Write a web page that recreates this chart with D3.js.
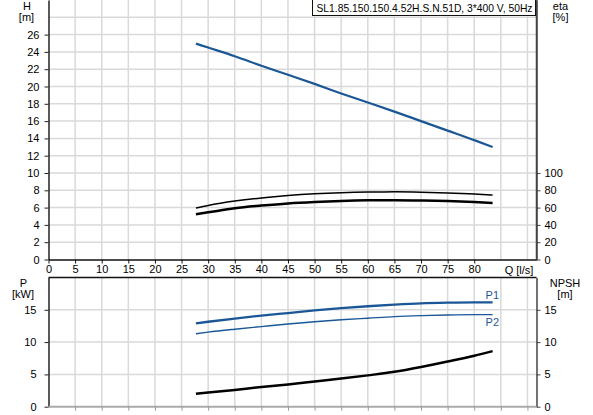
<!DOCTYPE html>
<html>
<head>
<meta charset="utf-8">
<script src="https://cdn.jsdelivr.net/npm/d3@7"></script>
<style>
body { margin: 0; background: #fff; }
svg { display: block; font-family: "Liberation Sans", Arial, sans-serif; }
.grid line { stroke: #d9d9d9; stroke-width: 1.5; }
</style>
</head>
<body>
<div id="chart"></div>
<script>
// flow points (l/s)
var flow = [27.7, 30, 35, 40, 45, 50, 55, 60, 65, 70, 75, 80, 83.45];
var head = [24.96, 24.5, 23.5, 22.4, 21.35, 20.3, 19.2, 18.15, 17.1, 16.0, 14.9, 13.8, 13.0];
var etaHyd = [59.6, 62.5, 67.5, 71.2, 74.0, 76.0, 77.3, 78.0, 78.2, 77.8, 76.9, 75.6, 74.6];
var etaTot = [52.3, 54.5, 59.3, 62.3, 64.8, 66.5, 67.7, 68.4, 68.6, 68.3, 67.6, 66.4, 65.3];
var p1 = [12.9, 13.15, 13.65, 14.1, 14.5, 14.9, 15.25, 15.55, 15.8, 16.0, 16.1, 16.15, 16.15];
var p2 = [11.3, 11.55, 12.0, 12.4, 12.8, 13.15, 13.45, 13.7, 13.95, 14.1, 14.2, 14.25, 14.25];
var npsh = [2.0, 2.2, 2.6, 3.05, 3.45, 3.9, 4.35, 4.85, 5.4, 6.15, 7.0, 7.9, 8.6];

var qTicks = [0, 5, 10, 15, 20, 25, 30, 35, 40, 45, 50, 55, 60, 65, 70, 75, 80];
var qGrid = [5, 10, 15, 20, 25, 30, 35, 40, 45, 50, 55, 60, 65, 70, 75, 80, 85, 90];
var hTicks = [0, 2, 4, 6, 8, 10, 12, 14, 16, 18, 20, 22, 24, 26];
var hGrid = [2, 4, 6, 8, 10, 12, 14, 16, 18, 20, 22, 24, 26, 28];
var etaTicks = [0, 20, 40, 60, 80, 100];
var pTicks = [0, 5, 10, 15];
var title = "SL1.85.150.150.4.52H.S.N.51D, 3*400 V, 50Hz";

var width = 593, height = 415;
var left = 48.5, right = 536.5;
var blue = "#1b5796";

var svg = d3.select("#chart").append("svg")
	.attr("width", width)
	.attr("height", height);

var x = d3.scaleLinear().domain([0, 91.7]).range([left, right]);
var yH = d3.scaleLinear().domain([0, 30]).range([259.5, 0]);
var yEta = d3.scaleLinear().domain([0, 300]).range([259.5, 0]);
var yP = d3.scaleLinear().domain([0, 20]).range([406.7, 277.5]);

// grids
var g1 = svg.append("g").attr("class", "grid");
g1.selectAll("line.v").data(qGrid).enter().append("line")
	.attr("x1", function(d) { return x(d); }).attr("x2", function(d) { return x(d); })
	.attr("y1", 0).attr("y2", yH(0));
g1.selectAll("line.h").data(hGrid).enter().append("line")
	.attr("x1", left).attr("x2", right)
	.attr("y1", function(d) { return yH(d); }).attr("y2", function(d) { return yH(d); });

var g2 = svg.append("g").attr("class", "grid");
g2.selectAll("line.v").data(qGrid).enter().append("line")
	.attr("x1", function(d) { return x(d); }).attr("x2", function(d) { return x(d); })
	.attr("y1", yP(20)).attr("y2", yP(0));
g2.selectAll("line.h").data([5, 10, 15]).enter().append("line")
	.attr("x1", left).attr("x2", right)
	.attr("y1", function(d) { return yP(d); }).attr("y2", function(d) { return yP(d); });

function styleAxis(g, color) {
	g.selectAll("path").attr("stroke", color).attr("stroke-width", 1.5);
	g.selectAll("line").attr("stroke", color);
	g.selectAll("text").attr("fill", "#000").style("font-size", "11px")
		.style("font-family", "Liberation Sans, Arial, sans-serif");
}

// top axes
svg.append("g")
	.attr("transform", "translate(" + left + ",0)")
	.call(d3.axisLeft(yH).tickValues(hTicks).tickSize(4).tickPadding(5).tickSizeOuter(0))
	.call(styleAxis, "#222");
svg.append("g")
	.attr("transform", "translate(0," + yH(0) + ")")
	.call(d3.axisBottom(x).tickValues(qTicks).tickSize(4).tickPadding(2).tickSizeOuter(0))
	.call(styleAxis, "#111");
svg.append("g")
	.attr("transform", "translate(" + right + ",0)")
	.call(d3.axisRight(yEta).tickValues(etaTicks).tickSize(4).tickPadding(4).tickSizeOuter(0))
	.call(styleAxis, "#444");
svg.append("line")
	.attr("x1", right).attr("x2", right).attr("y1", 0).attr("y2", yH(0))
	.attr("stroke", "#444").attr("stroke-width", 1.5);

// bottom axes
svg.append("g")
	.attr("transform", "translate(" + left + ",0)")
	.call(d3.axisLeft(yP).tickValues(pTicks).tickSize(4).tickPadding(8).tickSizeOuter(0))
	.call(styleAxis, "#222");
svg.append("g")
	.attr("transform", "translate(" + right + ",0)")
	.call(d3.axisRight(yP).tickValues(pTicks).tickSize(4).tickPadding(4).tickSizeOuter(0))
	.call(styleAxis, "#444");
svg.append("line")
	.attr("x1", left).attr("x2", right).attr("y1", yP(20)).attr("y2", yP(20))
	.attr("stroke", "#111").attr("stroke-width", 1.5);
svg.append("line")
	.attr("x1", left).attr("x2", right).attr("y1", yP(0)).attr("y2", yP(0))
	.attr("stroke", "#aaa").attr("stroke-width", 2);
svg.append("g")
	.attr("transform", "translate(0," + yP(0) + ")")
	.call(d3.axisBottom(x).tickValues(qGrid).tickSize(4).tickFormat(""))
	.call(styleAxis, "#999")
	.select("path").remove();

// curves
function curve(vals, yScale) {
	return d3.line().curve(d3.curveMonotoneX)
		.x(function(d, i) { return x(flow[i]); })
		.y(function(d) { return yScale(d); })(vals);
}
svg.append("path").attr("d", curve(head, yH))
	.attr("fill", "none").attr("stroke", blue).attr("stroke-width", 2.2);
svg.append("path").attr("d", curve(etaHyd, yEta))
	.attr("fill", "none").attr("stroke", "#000").attr("stroke-width", 1.5);
svg.append("path").attr("d", curve(etaTot, yEta))
	.attr("fill", "none").attr("stroke", "#000").attr("stroke-width", 2.5);
svg.append("path").attr("d", curve(p1, yP))
	.attr("fill", "none").attr("stroke", blue).attr("stroke-width", 2.3);
svg.append("path").attr("d", curve(p2, yP))
	.attr("fill", "none").attr("stroke", blue).attr("stroke-width", 1.4);
svg.append("path").attr("d", curve(npsh, yP))
	.attr("fill", "none").attr("stroke", "#000").attr("stroke-width", 2.5);

// labels
function label(tx, ty, t, anchor, color) {
	return svg.append("text").attr("x", tx).attr("y", ty)
		.attr("text-anchor", anchor || "middle")
		.attr("fill", color || "#000")
		.style("font-size", "11px")
		.text(t);
}
label(27, 10, "H");
label(26.5, 20.5, "[m]");
label(560.5, 10, "eta");
label(560.5, 20.5, "[%]");
label(23.5, 286.5, "P");
label(23, 297.5, "[kW]");
label(565, 286.5, "NPSH");
label(565, 297.5, "[m]");
label(519, 273.5, "Q [l/s]");
label(x(flow[flow.length - 1]) - 7, 298.5, "P1", "start", blue);
label(x(flow[flow.length - 1]) - 7, 325.5, "P2", "start", blue);

// title box
svg.append("rect")
	.attr("x", 312.5).attr("y", -1).attr("width", 223).attr("height", 16.5)
	.attr("fill", "#fff").attr("stroke", "#111").attr("stroke-width", 1);
label(316.5, 11.5, title, "start")
	.attr("textLength", 216)
	.attr("lengthAdjust", "spacingAndGlyphs");
</script>
</body>
</html>
